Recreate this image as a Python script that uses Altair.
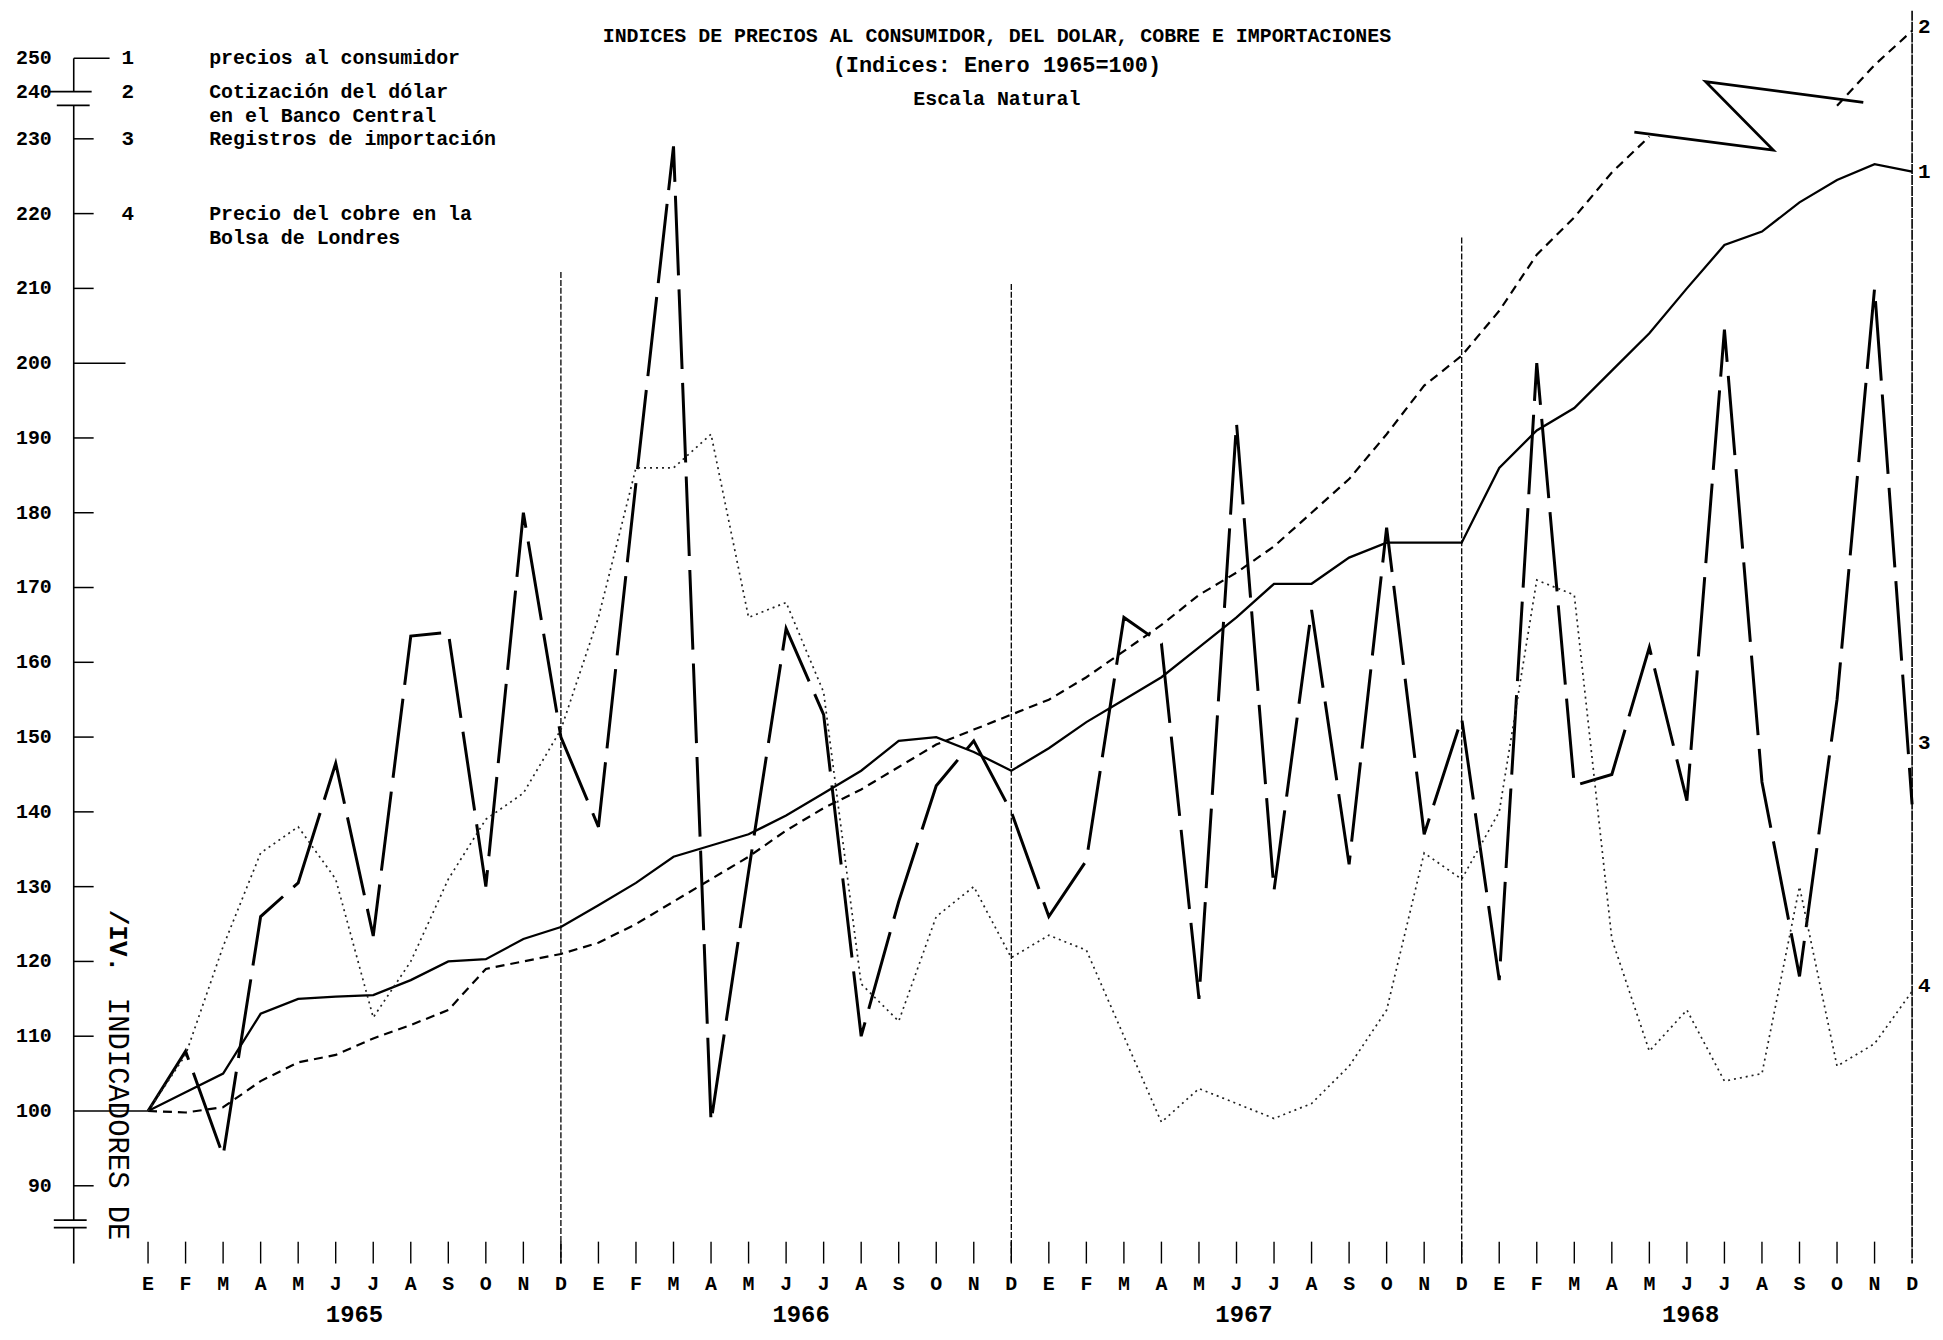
import altair as alt
import pandas as pd

# ---------------- data ----------------
MONTH_LETTERS = ["E", "F", "M", "A", "M", "J", "J", "A", "S", "O", "N", "D"]
N_MONTHS = 48
YEARS = ["1965", "1966", "1967", "1968"]
YEAR_CENTER = [5.5, 17.4, 29.2, 41.1]

# 1: precios al consumidor (solid)
CONSUMIDOR = [100, 102.5, 105, 113, 115, 115.3, 115.5, 117.5, 120, 120.3, 123, 124.6,
              127.5, 130.5, 134, 135.5, 137, 139.5, 142.5, 145.5, 149.5, 150, 148, 145.5,
              148.5, 152, 155, 158, 162, 166, 170.5, 170.5, 174, 176, 176, 176,
              186, 191, 194, 199, 204, 210, 215.8, 217.6, 221.5, 224.5, 226.6, 225.6]
# 2: cotizacion del dolar (short dashes, broken in mid 1968)
DOLAR = [100, 99.8, 100.5, 104, 106.5, 107.5, 109.7, 111.5, 113.5, 119, 120, 121,
         122.5, 125, 128, 131, 134, 137.5, 140.5, 143, 146, 149, 151, 153,
         155, 158, 161.5, 165, 169, 172, 175.5, 180, 184.5, 190.5, 197, 201,
         207, 214.5, 219.5, 225.5, 230.5, None, None, None, None, 237, 248, 258.3]
# 3: registros de importacion (long dashes)
IMPORTACION = [100, 108, 94, 126, 130.5, 146.5, 123.4, 163.5, 164, 130, 180, 150,
               138, 184, 229, 98.5, 132, 164.5, 153, 110, 128, 143.5, 149.5, 140,
               126, 133.5, 166, 162.5, 115, 192, 129.5, 167, 133, 178, 137, 152.5,
               117.5, 200, 143.5, 145, 162, 141.5, 204.5, 144, 118, 155, 210, 141]
# 4: precio del cobre (dotted)
COBRE = [100, 107.5, 122, 134.5, 138, 131, 112.5, 120, 131, 139, 142.5, 151,
         166, 186, 186, 190.5, 166, 168, 156, 117, 112, 126, 130, 120.5,
         123.5, 121.5, 110, 98.5, 103, 101, 99, 101, 106, 113.5, 134.5, 131,
         140, 171, 169, 123, 108, 113.5, 104, 105, 130, 106, 109, 116]

# scale-break zigzag drawn over the dollar line
ZIGZAG_I = [39.6, 43.3, 41.5, 45.7]
ZIGZAG_V = [231.4, 228.5, 243, 237.7]

DEC_LINES_I = [11, 23, 35]
DEC_LINES_TOP = [212.2, 210.6, 216.8]

Y_TICKS = [90, 100, 110, 120, 130, 140, 150, 160, 170, 180, 190, 200, 210, 220, 230, 240, 250]

LEGEND_NUM = ["1", "2", "3", "4"]
LEGEND_NUM_V = [250, 240, 230, 220]
LEGEND_TEXT = ["precios al consumidor", "Cotización del dólar", "en el Banco Central",
               "Registros de importación", "Precio del cobre en la", "Bolsa de Londres"]
LEGEND_TEXT_V = [250, 240, 234.8, 230, 220, 216.7]

END_LABELS = ["2", "1", "3", "4"]
END_LABEL_V = [259.4, 225.5, 149.2, 116.7]

TITLE = "INDICES DE PRECIOS AL CONSUMIDOR, DEL DOLAR, COBRE E IMPORTACIONES"
SUBTITLE = "(Indices: Enero 1965=100)"
SUBTITLE2 = "Escala Natural"
SIDE_TEXT = "INDICADORES DE"
SIDE_TEXT2 = "/IV."

# ---------------- layout ----------------
W, H = 1846, 1258
FONT = "Liberation Mono"
X_DOMAIN = [-1.98, 47]
Y_DOMAIN = [79.6, 230, 240, 250, 264.3]
Y_RANGE = [H, 128.6, 81.2, 47.8, 0]

xs = alt.Scale(domain=X_DOMAIN, nice=False, zero=False)
ys = alt.Scale(domain=Y_DOMAIN, range=Y_RANGE, nice=False, zero=False)


def series_df(vals):
    rows, seg, gap = [], 0, False
    for i, v in enumerate(vals):
        if v is None:
            if not gap:
                seg += 1
            gap = True
            continue
        gap = False
        rows.append({"i": i, "v": v, "seg": seg})
    return pd.DataFrame(rows)


x_axis = alt.Axis(labels=False, ticks=False, domain=True, domainColor="black",
                  domainWidth=1.6, grid=False, title=None)

X = alt.X("i:Q", scale=xs, axis=None)
Y = alt.Y("v:Q", scale=ys, axis=None)

cons = alt.Chart(series_df(CONSUMIDOR)).mark_line(color="black", strokeWidth=2.3).encode(
    x=alt.X("i:Q", scale=xs, axis=x_axis), y=Y)
dol = alt.Chart(series_df(DOLAR)).mark_line(color="black", strokeWidth=2.2, strokeDash=[9, 6]).encode(
    x=X, y=Y, detail="seg:N")
imp = alt.Chart(series_df(IMPORTACION)).mark_line(color="black", strokeWidth=3, strokeDash=[80, 14]).encode(
    x=X, y=Y)
cob = alt.Chart(series_df(COBRE)).mark_line(color="#222222", strokeWidth=1.7, strokeDash=[2, 4]).encode(
    x=X, y=Y)

zig = alt.Chart(pd.DataFrame({"i": ZIGZAG_I, "v": ZIGZAG_V, "o": list(range(len(ZIGZAG_I)))})).mark_line(
    color="black", strokeWidth=2.8).encode(x=X, y=Y, order="o:Q")

# x-axis ticks (pointing up) and month letters
month_df = pd.DataFrame({"i": list(range(N_MONTHS)),
                         "t": [MONTH_LETTERS[k % 12] for k in range(N_MONTHS)]})
xticks = alt.Chart(month_df[month_df.i < N_MONTHS - 1]).mark_rule(
    color="black", strokeWidth=1.4).encode(x=X, y=alt.value(H), y2=alt.value(H - 22))

declines = alt.Chart(pd.DataFrame({"i": DEC_LINES_I, "v": DEC_LINES_TOP})).mark_rule(
    color="black", strokeWidth=1.3, strokeDash=[6, 2]).encode(x=X, y=Y, y2=alt.value(H))

right_border = alt.Chart(pd.DataFrame({"i": [N_MONTHS - 1]})).mark_rule(
    color="black", strokeWidth=1.6, strokeDash=[10, 1]).encode(x=X, y=alt.value(0), y2=alt.value(H))

# left axis line, with two scale breaks
axis_seg = alt.Chart(pd.DataFrame({"lo": [Y_DOMAIN[0], 85.4, 240], "hi": [84.4, 237.1, 250]})).mark_rule(
    color="black", strokeWidth=1.6).encode(
    x=alt.value(0), y=alt.Y("lo:Q", scale=ys, axis=None), y2="hi:Q")


def yrule(values, x0, x1, width=1.5):
    return alt.Chart(pd.DataFrame({"v": values})).mark_rule(color="black", strokeWidth=width).encode(
        y=Y, x=alt.value(x0), x2=alt.value(x1))


ticks = [
    yrule([90, 110, 120, 130, 140, 150, 160, 170, 180, 190, 210, 220, 230], 0, 20),
    yrule([200], 0, 52),
    yrule([100], 0, 76),
    yrule([250], 0, 36),
    yrule([240], -24, 18, 1.8),
    yrule([237.1], -17, 16, 1.8),
    yrule([84.4, 85.4], -20, 13, 1.8),
]

txt = dict(font=FONT, fontWeight="bold", color="black")

ylabels = alt.Chart(pd.DataFrame({"v": Y_TICKS, "t": [str(v) for v in Y_TICKS]})).mark_text(
    align="right", baseline="middle", fontSize=20, **txt).encode(x=alt.value(-22), y=Y, text="t:N")
mlabels = alt.Chart(month_df).mark_text(
    align="center", baseline="middle", fontSize=20, **txt).encode(x=X, y=alt.value(H + 21), text="t:N")

leg_num = alt.Chart(pd.DataFrame({"t": LEGEND_NUM, "v": LEGEND_NUM_V})).mark_text(
    align="left", baseline="middle", fontSize=21, **txt).encode(x=alt.value(48), y=Y, text="t:N")
leg_txt = alt.Chart(pd.DataFrame({"t": LEGEND_TEXT, "v": LEGEND_TEXT_V})).mark_text(
    align="left", baseline="middle", fontSize=20, **txt).encode(x=alt.value(136), y=Y, text="t:N")
end_lab = alt.Chart(pd.DataFrame({"t": END_LABELS, "v": END_LABEL_V})).mark_text(
    align="left", baseline="middle", fontSize=21, **txt).encode(x=alt.value(W + 6), y=Y, text="t:N")
years = alt.Chart(pd.DataFrame({"t": YEARS, "i": YEAR_CENTER})).mark_text(
    align="center", baseline="middle", fontSize=24, **txt).encode(x=X, y=alt.value(H + 52), text="t:N")

title = alt.Chart(pd.DataFrame({"t": [TITLE]})).mark_text(
    align="center", baseline="middle", fontSize=20, **txt).encode(x=alt.value(927), y=alt.value(25), text="t:N")
sub1 = alt.Chart(pd.DataFrame({"t": [SUBTITLE]})).mark_text(
    align="center", baseline="middle", fontSize=22, **txt).encode(x=alt.value(927), y=alt.value(54), text="t:N")
sub2 = alt.Chart(pd.DataFrame({"t": [SUBTITLE2]})).mark_text(
    align="center", baseline="middle", fontSize=20, **txt).encode(x=alt.value(927), y=alt.value(89), text="t:N")

side1 = alt.Chart(pd.DataFrame({"t": [SIDE_TEXT]})).mark_text(
    align="center", baseline="middle", fontSize=29, angle=90, font=FONT, color="black").encode(
    x=alt.value(44), y=alt.value(1113), text="t:N")
side2 = alt.Chart(pd.DataFrame({"t": [SIDE_TEXT2]})).mark_text(
    align="center", baseline="middle", fontSize=26, angle=90, fontWeight="bold", font=FONT, color="black").encode(
    x=alt.value(44), y=alt.value(934), text="t:N")

chart = alt.layer(
    cons, declines, right_border, axis_seg, *ticks, xticks, dol, imp, cob, zig,
    ylabels, mlabels, leg_num, leg_txt, end_lab, years, title, sub1, sub2, side1, side2,
).properties(
    width=W, height=H,
    autosize=alt.AutoSizeParams(type="none"),
    padding={"left": 66, "top": 0, "right": 23, "bottom": 74},
    background="white",
).configure_view(stroke=None)

chart.save("out.html", embed_options={"renderer": "svg", "actions": False})
